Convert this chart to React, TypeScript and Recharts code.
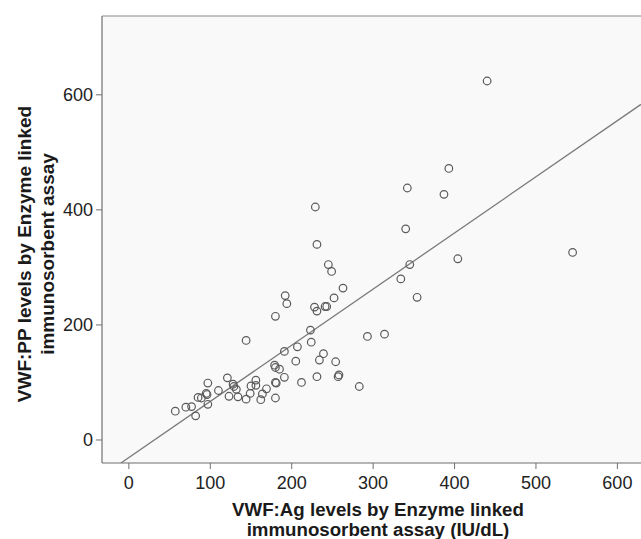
import React from "react";
import {
  ScatterChart,
  Scatter,
  XAxis,
  YAxis,
  CartesianGrid,
  ReferenceLine,
  Label,
} from "recharts";

// VWF:Ag (IU/dL) by ELISA
const agValues = [
  57, 70, 77, 82, 85, 89, 95, 96, 97, 97,
  110, 121, 123, 128, 129, 132, 134, 144, 144, 149,
  150, 156, 156, 162, 164, 169, 180, 192, 194, 191,
  179, 180, 185, 180, 181, 180, 191, 207, 205, 212,
  223, 224, 228, 231, 241, 243, 252, 263, 239, 234,
  231, 254, 257, 258, 283, 293, 314, 229, 231, 245,
  249, 334, 345, 354, 404, 340, 342, 387, 393, 440,
  545,
];
// VWF:PP by ELISA
const ppValues = [
  50, 57, 58, 42, 74, 73, 81, 79, 99, 62,
  86, 108, 76, 97, 93, 88, 75, 173, 71, 81,
  94, 104, 95, 70, 80, 89, 215, 251, 237, 154,
  130, 126, 123, 100, 99, 73, 109, 162, 137, 100,
  191, 170, 231, 224, 232, 232, 247, 264, 150, 139,
  110, 136, 110, 113, 93, 180, 184, 405, 340, 305,
  293, 280, 305, 248, 315, 367, 438, 427, 472, 624,
  326,
];

const xTicks = [0, 100, 200, 300, 400, 500, 600];
const yTicks = [0, 200, 400, 600];
const xDomain: [number, number] = [-33, 629];
const yDomain: [number, number] = [-40, 737];

// fitted regression line: PP = slope * Ag + intercept
const fitSlope = 0.976;
const fitIntercept = -30.5;

const points = agValues.map((x, i) => ({ x, y: ppValues[i] }));

const fitStartX = (yDomain[0] - fitIntercept) / fitSlope;
const fitEndX = xDomain[1];
const fitSegment = [
  { x: fitStartX, y: fitSlope * fitStartX + fitIntercept },
  { x: fitEndX, y: fitSlope * fitEndX + fitIntercept },
];

const FONT = '"Liberation Sans", Arial, Helvetica, sans-serif';

const OpenCircle = (props: any) => {
  const { cx, cy } = props;
  if (cx == null || cy == null) return null;
  return <circle cx={cx} cy={cy} r={3.8} fill="none" stroke="#5a5a5a" strokeWidth={1.2} />;
};

const XTitle = (props: any) => {
  const vb = props.viewBox || {};
  const cx = (vb.x ?? 103) + 276;
  return (
    <text
      textAnchor="middle"
      fontFamily={FONT}
      fontWeight="bold"
      fontSize={18.7}
      fill="#1a1a1a"
    >
      <tspan x={cx} y={516}>VWF:Ag levels by Enzyme linked</tspan>
      <tspan x={cx} y={536}>immunosorbent assay (IU/dL)</tspan>
    </text>
  );
};

const YTitle = () => {
  const cy = 254;
  return (
    <text
      transform="rotate(-90, 0, 0)"
      textAnchor="middle"
      fontFamily={FONT}
      fontWeight="bold"
      fontSize={19}
      fill="#1a1a1a"
    >
      <tspan x={-cy} y={31}>VWF:PP levels by Enzyme linked</tspan>
      <tspan x={-cy} y={54}>immunosorbent assay</tspan>
    </text>
  );
};

export default function App() {
  return (
    <div style={{ position: "absolute", left: 0, top: 0, width: 641, height: 539, background: "#fff" }}>
      <ScatterChart
        width={641}
        height={539}
        margin={{ top: 16, right: 0, bottom: 0, left: 0 }}
        style={{ fontFamily: FONT }}
      >
        <CartesianGrid horizontal={false} vertical={false} fill="#f9f9f9" />
        <XAxis
          type="number"
          dataKey="x"
          domain={xDomain}
          ticks={xTicks}
          allowDataOverflow
          height={76}
          tickSize={6}
          tickMargin={7}
          axisLine={{ stroke: "#6f6f6f", strokeWidth: 1.2 }}
          tickLine={{ stroke: "#6f6f6f" }}
          tick={{ fill: "#222", fontSize: 18, fontFamily: FONT }}
        >
          <Label content={<XTitle />} />
        </XAxis>
        <YAxis
          type="number"
          dataKey="y"
          domain={yDomain}
          ticks={yTicks}
          allowDataOverflow
          width={102}
          tickSize={6}
          tickMargin={3}
          axisLine={{ stroke: "#6f6f6f", strokeWidth: 1.2 }}
          tickLine={{ stroke: "#6f6f6f" }}
          tick={{ fill: "#222", fontSize: 18, fontFamily: FONT }}
        >
          <Label content={<YTitle />} />
        </YAxis>
        <ReferenceLine y={yDomain[1]} stroke="#8a8a8a" strokeWidth={1.2} />
        <ReferenceLine
          segment={fitSegment}
          stroke="#7a7a7a"
          strokeWidth={1.3}
          ifOverflow="hidden"
        />
        <Scatter data={points} shape={<OpenCircle />} isAnimationActive={false} />
      </ScatterChart>
    </div>
  );
}
